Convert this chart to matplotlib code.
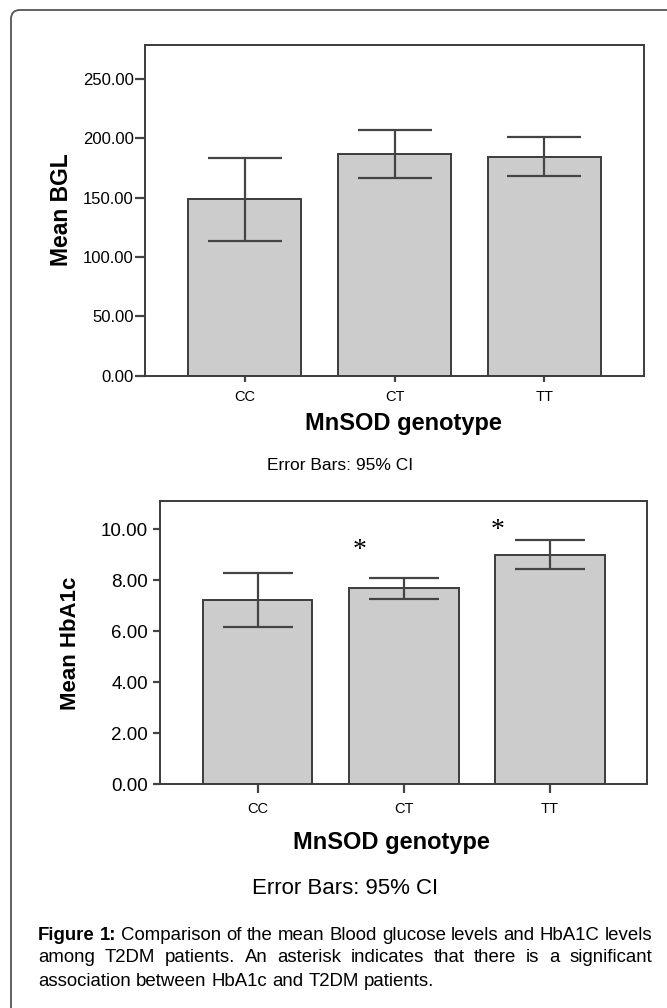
import matplotlib
matplotlib.use("Agg")
import matplotlib.pyplot as plt
from matplotlib.path import Path
from matplotlib.patches import PathPatch
import numpy as np

plt.rcParams['font.family'] = ['Liberation Sans', 'DejaVu Sans']

# data
genotypes = ['CC', 'CT', 'TT']
bgl_mean = [148.6, 186.8, 184.5]
bgl_lo = [113.8, 166.3, 168.3]
bgl_hi = [183.7, 207.3, 200.9]
bgl_ticks = [0, 50, 100, 150, 200, 250]

hba_mean = [7.23, 7.69, 9.00]
hba_lo = [6.16, 7.27, 8.44]
hba_hi = [8.27, 8.10, 9.58]
hba_ticks = [0, 2, 4, 6, 8, 10]

star_idx = [1, 2]
star_y = [9.38, 10.17]

caption_lines = [
    [("Figure 1:", "bold"), ("Comparison of the mean Blood glucose levels and HbA1C levels", "normal")],
    [("among T2DM patients. An asterisk indicates that there is a significant", "normal")],
    [("association between HbA1c and T2DM patients.", "normal")],
]

W, H = 667, 1008
fig = plt.figure(figsize=(W / 100, H / 100), dpi=100)


def fx(x):
    return x / W


def fy(y):
    return 1 - y / H


def px_axes(l, t, r, b):
    return fig.add_axes([fx(l), fy(b), (r - l) / W, (b - t) / H])


edge = '#3c3c3c'


def draw_bars(ax, mean, lo, hi, ylim, ticks, capsize, ytick_size,
              ytick_len, ytick_pad, xtick_size, xtick_len, xtick_pad):
    x = np.arange(len(genotypes))
    m = np.array(mean)
    yerr = [m - np.array(lo), np.array(hi) - m]
    ax.bar(x, m, width=0.75, color='#cccccc', edgecolor=edge, linewidth=1.4, zorder=2)
    ax.errorbar(x, m, yerr=yerr, fmt='none', ecolor='#444444', elinewidth=1.6,
                capsize=capsize, capthick=1.6, zorder=3)
    ax.set_xlim(-0.665, 2.665)
    ax.set_ylim(0, ylim)
    ax.set_yticks(ticks)
    ax.set_yticklabels(['%.2f' % t for t in ticks], fontsize=ytick_size)
    ax.set_xticks(x)
    ax.set_xticklabels(genotypes, fontsize=xtick_size)
    ax.tick_params(axis='y', length=ytick_len, width=1.6, color='#444444', pad=ytick_pad)
    ax.tick_params(axis='x', length=xtick_len, width=1.6, color='#444444', pad=xtick_pad)
    for s in ax.spines.values():
        s.set_color(edge)
        s.set_linewidth(1.4)


# top panel: blood glucose
ax1 = px_axes(145, 45.3, 644, 375.7)
draw_bars(ax1, bgl_mean, bgl_lo, bgl_hi, 278.4, bgl_ticks, 26.5,
          12, 7, 1, 10.5, 4, 6)
fig.text(fx(62), fy(210), 'Mean BGL', rotation=90, ha='center', va='center',
         fontsize=16.5, fontweight='bold')
fig.text(fx(403), fy(423), 'MnSOD genotype', ha='center', va='center',
         fontsize=17, fontweight='bold')
fig.text(fx(340), fy(465), 'Error Bars: 95% CI', ha='center', va='center', fontsize=12.5)

# bottom panel: HbA1c
ax2 = px_axes(160.3, 501, 647.3, 784.3)
draw_bars(ax2, hba_mean, hba_lo, hba_hi, 11.11, hba_ticks, 25,
          13.5, 5, 4, 10.5, 6.5, 6)
for i, yv in zip(star_idx, star_y):
    ax2.annotate('*', (i - 0.3 - 0.06 * (i - 1), yv), xytext=(0, -4),
                 textcoords='offset points', ha='center', va='center',
                 fontsize=20, family='Liberation Serif')
fig.text(fx(70), fy(643), 'Mean HbA1c', rotation=90, ha='center', va='center',
         fontsize=16, fontweight='bold')
fig.text(fx(391), fy(842), 'MnSOD genotype', ha='center', va='center',
         fontsize=17, fontweight='bold')
fig.text(fx(345), fy(888), 'Error Bars: 95% CI', ha='center', va='center', fontsize=16)

# caption, justified between two margins
renderer = fig.canvas.get_renderer()
left, right = 38, 652
cap_size = 13.4
for k, line in enumerate(caption_lines):
    words = []
    for chunk, weight in line:
        for w in chunk.split(' '):
            words.append((w, weight))
    texts = [fig.text(0, fy(935 + 23 * k), w, fontsize=cap_size, fontweight=wt,
                      ha='left', va='center') for w, wt in words]
    widths = [t.get_window_extent(renderer).width for t in texts]
    if k < len(caption_lines) - 1:
        gap = (right - left - sum(widths)) / (len(words) - 1)
    else:
        gap = fig.text(0, 0, ' ', fontsize=cap_size).get_window_extent(renderer).width
    xpos = left
    for t, wd in zip(texts, widths):
        t.set_x(fx(xpos))
        xpos += wd + gap

# rounded frame line on the left and top
r = 9
x0, y0 = 11, 10
verts = [(fx(x0), fy(H + 5)), (fx(x0), fy(y0 + r)), (fx(x0), fy(y0)), (fx(x0 + r), fy(y0)),
         (fx(W + 5), fy(y0))]
codes = [Path.MOVETO, Path.LINETO, Path.CURVE3, Path.CURVE3, Path.LINETO]
fig.add_artist(PathPatch(Path(verts, codes), transform=fig.transFigure, fill=False,
                         edgecolor='#555555', linewidth=1.3))

fig.savefig('out.png', dpi=100)
